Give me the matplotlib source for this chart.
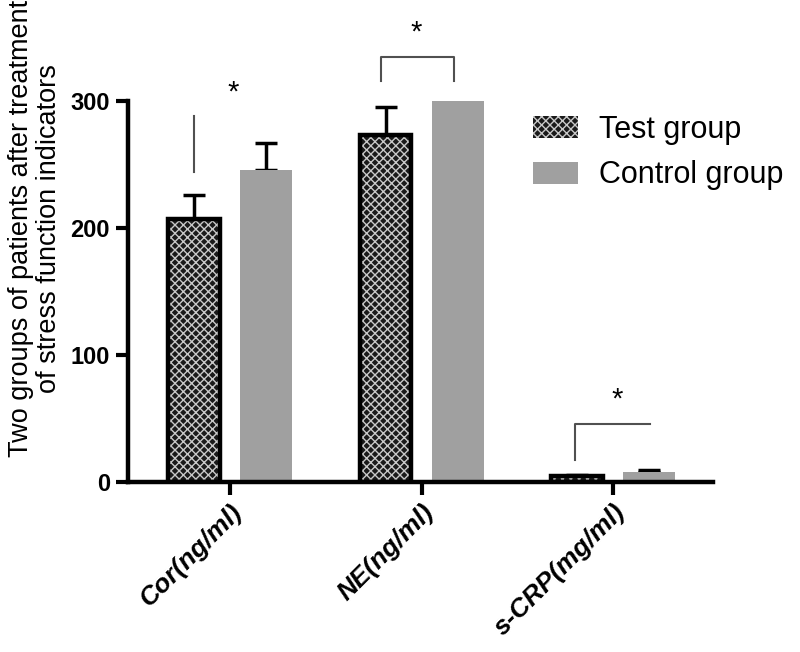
import matplotlib
matplotlib.use('Agg')
import matplotlib.pyplot as plt
import numpy as np
from matplotlib.patches import Patch

plt.rcParams['font.family'] = ['Liberation Sans', 'DejaVu Sans']

categories = ['Cor(ng/ml)', 'NE(ng/ml)', 's-CRP(mg/ml)']
test_means = [207, 273, 5]
test_errs = [19, 22, 0.8]
control_means = [246, 300, 8]
control_errs = [21, 20, 1.5]
y_ticks = [0, 100, 200, 300]

FILL_GRAY = '#a0a0a0'
LINE_GRAY = '#505050'

fig = plt.figure(figsize=(8, 6.52), dpi=100)
ax = fig.add_axes([0.16, 0.2607, 0.731, 0.5844])

x = np.arange(len(categories))
off = 0.188
width = 0.27

# checkered test bars: hatch first, outline on top
ax.bar(x - off, test_means, width, color='#1a1a1a', edgecolor='#c8c8c8',
       hatch='xxxx', linewidth=0, zorder=2)
ax.bar(x - off, test_means, width, fill=False, edgecolor='black',
       linewidth=3.2, zorder=3)
ax.errorbar(x - off, test_means, yerr=[np.zeros(3), test_errs], fmt='none',
            ecolor='black', elinewidth=2.5, capsize=8, capthick=2.5, zorder=1)

ax.bar(x + off, control_means, width, color=FILL_GRAY, linewidth=0, zorder=2)
ax.errorbar(x + off, control_means, yerr=[np.zeros(3), control_errs], fmt='none',
            ecolor='black', elinewidth=2.5, capsize=8, capthick=2.5, zorder=1)

ax.set_xlim(-0.533, 2.52)
ax.set_ylim(0, 300)
ax.set_yticks(y_ticks)
ax.set_yticklabels([str(t) for t in y_ticks], fontsize=17, fontweight='bold')
ax.set_xticks(x)
ax.set_xticklabels(categories, rotation=45, ha='right', rotation_mode='anchor',
                   fontsize=19, fontweight='bold', fontstyle='italic')
ax.tick_params(axis='both', direction='out', length=9, width=3, pad=4)
for side in ('top', 'right'):
    ax.spines[side].set_visible(False)
for side in ('left', 'bottom'):
    ax.spines[side].set_linewidth(3.2)

# significance marks
kw = dict(color=LINE_GRAY, linewidth=1.5, clip_on=False)
ax.plot([-0.19, -0.19], [244, 288], **kw)
ax.text(0.015, 307, '*', ha='center', va='center', fontsize=21)
ax.plot([0.79, 0.79, 1.17, 1.17], [316, 335, 335, 316], **kw)
ax.text(0.97, 354, '*', ha='center', va='center', fontsize=21)
ax.plot([1.80, 1.80, 2.19], [17, 46, 46], **kw)
ax.text(2.02, 65, '*', ha='center', va='center', fontsize=21)

handles = [Patch(facecolor='#1a1a1a', edgecolor='#c8c8c8', hatch='xxxx', linewidth=0),
           Patch(facecolor=FILL_GRAY, linewidth=0)]
fig.legend(handles, ['Test group', 'Control group'], loc='upper left',
           bbox_to_anchor=(0.647, 0.847), frameon=False, fontsize=22, borderpad=0,
           handlelength=1.47, handleheight=0.72, handletextpad=0.69, labelspacing=0.5)

fig.text(0.044, 0.649, 'Two groups of patients after treatment\nof stress function indicators',
         rotation=90, ha='center', va='center', fontsize=19.5, linespacing=1.1)

fig.savefig('out.png', dpi=100)
